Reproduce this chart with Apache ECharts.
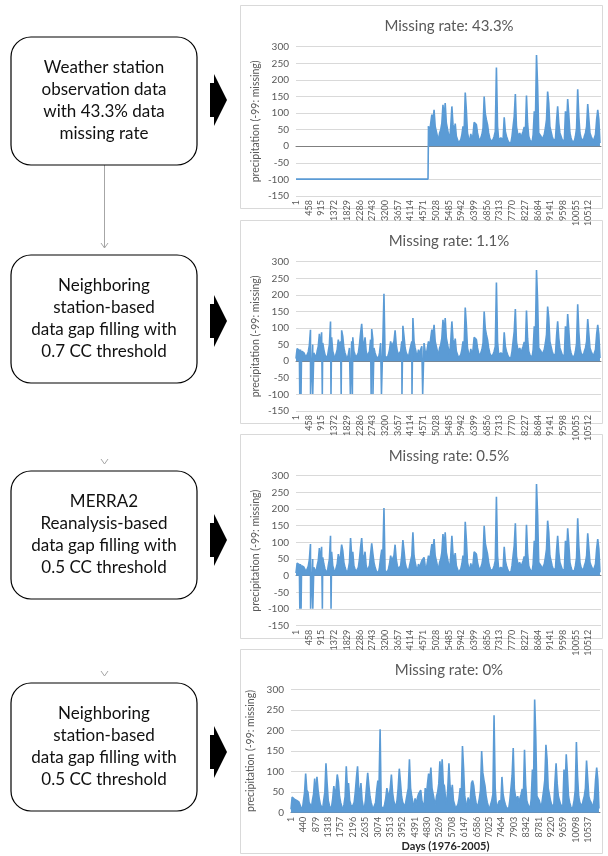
<!DOCTYPE html>
<html>
<head>
<meta charset="utf-8">
<script src="https://cdn.jsdelivr.net/npm/echarts@6/dist/echarts.min.js"></script>
<style>
  html, body { margin: 0; padding: 0; background: #ffffff; }
  #chart { width: 608px; height: 856px; }
</style>
</head>
<body>
<div id="chart"></div>
<script>
// Daily precipitation (mm), one reading every SAMPLE_STEP days starting on day 1
const SAMPLE_STEP = 40;
const TOTAL_DAYS = 10958;
const MISSING = -99;

const precip = [
  8, 38, 40, 33, 35, 30, 31, 26, 22, 12,
  6, 28, 48, 95, 55, 50, 25, 20, 10, 30,
  45, 83, 40, 87, 55, 35, 20, 15, 8, 30,
  50, 120, 72, 30, 18, 10, 15, 35, 65, 40,
  60, 93, 75, 40, 25, 15, 8, 20, 40, 113,
  60, 72, 30, 20, 12, 8, 25, 50, 85, 113,
  60, 45, 72, 30, 15, 10, 30, 65, 97, 67,
  40, 25, 15, 10, 8, 25, 55, 78, 60, 203,
  15, 12, 10, 20, 35, 60, 45, 40, 60, 93,
  50, 30, 20, 15, 30, 60, 107, 75, 40, 25,
  20, 12, 30, 45, 60, 130, 60, 40, 25, 15,
  35, 20, 35, 45, 50, 55, 30, 20, 15, 60,
  40, 70, 95, 75, 110, 60, 45, 30, 20, 40,
  50, 70, 125, 80, 130, 70, 65, 35, 20, 60,
  120, 65, 45, 68, 30, 20, 10, 8, 20, 35,
  60, 45, 162, 108, 40, 25, 15, 37, 20, 35,
  72, 78, 65, 40, 25, 15, 20, 35, 55, 150,
  98, 80, 65, 40, 25, 15, 10, 20, 30, 45,
  237, 60, 20, 15, 25, 30, 20, 87, 45, 30,
  20, 12, 8, 10, 30, 60, 90, 157, 58, 40,
  30, 40, 25, 35, 45, 58, 40, 153, 68, 30,
  20, 15, 10, 35, 105, 70, 275, 182, 40, 35,
  30, 20, 15, 35, 55, 80, 165, 130, 60, 45,
  30, 20, 15, 20, 75, 120, 70, 40, 30, 20,
  20, 15, 105, 60, 142, 95, 40, 25, 15, 10,
  15, 30, 55, 172, 90, 40, 25, 20, 15, 30,
  40, 60, 127, 83, 40, 30, 25, 15, 20, 35,
  80, 110, 80, 10
];

// Raw station record: nothing observed before this day
const firstObservedDay = 4745;

// Remaining gaps [first day, last day] after each filling step
const gapsNeighbor07 = [
  [136, 150], [182, 196], [524, 538], [558, 572], [602, 616], [946, 960],
  [1258, 1272], [1624, 1638], [1954, 1968], [2026, 2040], [2700, 2714],
  [2766, 2780], [3071, 3085], [3808, 3822], [4168, 4182], [4552, 4566]
];
const gapsMerra05 = [
  [138, 148], [184, 194], [526, 536], [560, 570], [604, 614], [948, 958],
  [1260, 1270]
];

const panelTitles = [
  'Missing rate: 43.3%',
  'Missing rate: 1.1%',
  'Missing rate: 0.5%',
  'Missing rate: 0%'
];

const stepLabels = [
  'Weather station\nobservation data\nwith 43.3% data\nmissing rate',
  'Neighboring\nstation-based\ndata gap filling with\n0.7 CC threshold',
  'MERRA2\nReanalysis-based\ndata gap filling with\n0.5 CC threshold',
  'Neighboring\nstation-based\ndata gap filling with\n0.5 CC threshold'
];

const xTicksUpper = [1, 458, 915, 1372, 1829, 2286, 2743, 3200, 3657, 4114, 4571, 5028,
  5485, 5942, 6399, 6856, 7313, 7770, 8227, 8684, 9141, 9598, 10055, 10512];
const xTicksLower = [1, 440, 879, 1318, 1757, 2196, 2635, 3074, 3513, 3952, 4391, 4830,
  5269, 5708, 6147, 6586, 7025, 7464, 7903, 8342, 8781, 9220, 9659, 10098, 10537];

const yAxisName = 'precipitation (-99: missing)';
const xAxisName = 'Days (1976-2005)';

// ---- series builders -------------------------------------------------------
function dayOf(i) { return 1 + i * SAMPLE_STEP; }

function observedFrom(startDay) {
  const pts = [];
  precip.forEach((v, i) => { if (dayOf(i) >= startDay) pts.push([dayOf(i), v]); });
  return pts;
}

function withGaps(gaps) {
  const pts = [];
  let g = 0;
  precip.forEach((v, i) => {
    const d = dayOf(i);
    while (g < gaps.length && gaps[g][0] <= d) {
      pts.push([gaps[g][0], MISSING], [gaps[g][1], MISSING]);
      g++;
    }
    if (gaps.some(([a, b]) => d >= a && d <= b)) return;
    pts.push([d, v]);
  });
  return pts;
}

const observed = observedFrom(firstObservedDay);
const rawMissing = [[1, MISSING], [firstObservedDay - 1, MISSING], observed[0]];

// ---- layout ----------------------------------------------------------------
const BLUE = '#5B9BD5';
const TEXT = '#595959';
const GRID_LINE = '#D9D9D9';
const FONT = 'Lato';

const panels = [
  { top: 46.7, height: 149.3, left: 296, right: 7, min: -150, ticks: xTicksUpper, box: [5, 208], titleY: 26 },
  { top: 261.7, height: 149.3, left: 296, right: 7, min: -150, ticks: xTicksUpper, box: [220, 423], titleY: 241 },
  { top: 475.7, height: 150, left: 296, right: 7, min: -150, ticks: xTicksUpper, box: [434, 638], titleY: 456.5 },
  { top: 689.3, height: 123.4, left: 291, right: 8, min: 0, ticks: xTicksLower, box: [649, 853], titleY: 670 }
];

const grids = panels.map(p => ({
  left: p.left, right: p.right, top: p.top, height: p.height,
  containLabel: false, outerBoundsMode: 'none'
}));

const xAxes = panels.map((p, k) => ({
  gridIndex: k,
  type: 'value',
  min: 1,
  max: TOTAL_DAYS,
  splitLine: { show: false },
  axisTick: { show: false },
  axisLine: { onZero: true, lineStyle: { color: '#7F7F7F', width: 1 } },
  axisLabel: {
    customValues: p.ticks,
    rotate: 90,
    margin: 4,
    fontSize: 9,
    fontFamily: FONT,
    color: TEXT,
    formatter: v => String(v)
  },
  name: k === 3 ? xAxisName : '',
  nameLocation: 'middle',
  nameGap: 28,
  nameMoveOverlap: false,
  nameTextStyle: { fontFamily: FONT, fontSize: 11, fontWeight: 'bold', color: '#262626' }
}));

const yAxes = panels.map((p, k) => ({
  gridIndex: k,
  type: 'value',
  min: p.min,
  max: 300,
  interval: 50,
  axisLine: { show: false },
  axisTick: { show: false },
  splitLine: { lineStyle: { color: GRID_LINE, width: 1 } },
  axisLabel: { fontSize: 10, fontFamily: FONT, color: TEXT, margin: 7 },
  name: yAxisName,
  nameLocation: 'middle',
  nameRotate: 90,
  nameGap: 35,
  nameMoveOverlap: false,
  nameTextStyle: { fontFamily: FONT, fontSize: 10.5, color: TEXT }
}));

function lineSeries(k, data, filled) {
  return {
    type: 'line',
    xAxisIndex: k,
    yAxisIndex: k,
    data: data,
    symbol: 'none',
    showSymbol: false,
    animation: false,
    lineStyle: { color: BLUE, width: 1.6 },
    areaStyle: filled ? { color: BLUE, opacity: 1 } : undefined,
    z: 3
  };
}

const series = [
  lineSeries(0, rawMissing, false),
  lineSeries(0, observed, true),
  lineSeries(1, withGaps(gapsNeighbor07), true),
  lineSeries(2, withGaps(gapsMerra05), true),
  lineSeries(3, observedFrom(1), true)
];

// ---- flowchart and panel frames -------------------------------------------
const boxTops = [37, 255, 471, 683];
const BOX_H = 128;
const arrowCenters = [100, 321, 540, 752];

const graphic = [];
panels.forEach((p, k) => {
  graphic.push({
    type: 'rect', z: -10, silent: true,
    shape: { x: 240.5, y: p.box[0] + 0.5, width: 362, height: p.box[1] - p.box[0] },
    style: { fill: '#ffffff', stroke: GRID_LINE, lineWidth: 1 }
  });
  graphic.push({
    type: 'text', z: 10, silent: true,
    x: 449, y: p.titleY,
    style: { text: panelTitles[k], fontFamily: FONT, fontSize: 15, fill: TEXT, align: 'center', verticalAlign: 'middle' }
  });
});

boxTops.forEach((top, k) => {
  graphic.push({
    type: 'rect', z: 5, silent: true,
    shape: { x: 11, y: top, width: 186, height: BOX_H, r: 20 },
    style: { fill: '#ffffff', stroke: '#000000', lineWidth: 1.2 }
  });
  graphic.push({
    type: 'text', z: 6, silent: true,
    x: 104, y: top + BOX_H / 2,
    style: { text: stepLabels[k], fontFamily: FONT, fontSize: 17, lineHeight: 22, fill: '#111111', align: 'center', verticalAlign: 'middle' }
  });
  const cy = arrowCenters[k];
  graphic.push({
    type: 'polygon', z: 5, silent: true,
    shape: { points: [[210, cy - 17], [214, cy - 17], [214, cy - 26], [227, cy], [214, cy + 26], [214, cy + 17], [210, cy + 17]] },
    style: { fill: '#000000' }
  });
  if (k > 0) {
    const y = top - 7;
    graphic.push({
      type: 'polyline', z: 5, silent: true,
      shape: { points: [[101, y - 5], [104.5, y], [108, y - 5]] },
      style: { stroke: '#A6A6A6', lineWidth: 1, fill: null }
    });
  }
});
graphic.push({
  type: 'line', z: 4, silent: true,
  shape: { x1: 104.5, y1: boxTops[0] + BOX_H, x2: 104.5, y2: boxTops[1] - 7 },
  style: { stroke: '#A6A6A6', lineWidth: 1 }
});

const chart = echarts.init(document.getElementById('chart'), null, { renderer: 'canvas' });
chart.setOption({
  animation: false,
  backgroundColor: '#ffffff',
  grid: grids,
  xAxis: xAxes,
  yAxis: yAxes,
  series: series,
  graphic: graphic
});
</script>
</body>
</html>
